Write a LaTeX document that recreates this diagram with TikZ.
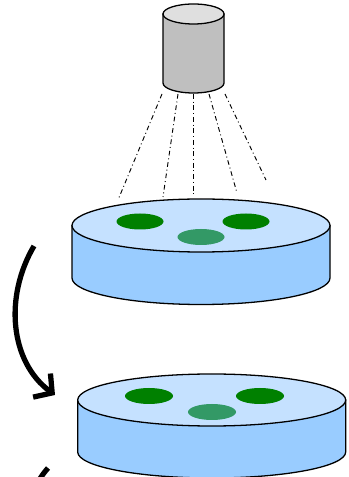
\documentclass[tikz,border=0pt]{standalone}
\usepackage{tikz}
\usetikzlibrary{arrows.meta}

\definecolor{dishside}{RGB}{153,204,255}
\definecolor{dishtop}{RGB}{197,225,255}
\definecolor{colony}{RGB}{0,128,0}
\definecolor{colonylight}{RGB}{51,153,102}

\begin{document}
\begin{tikzpicture}[x=0.03cm, y=0.03cm,
		outline/.style={draw=black, line width=1.1pt},
		ray/.style={line width=0.8pt, dash pattern=on 4pt off 2.5pt on 0.8pt off 2.5pt},
		move/.style={line width=4.5pt, -{Straight Barb[length=11pt, width=25pt, line width=4.5pt]}}]
		\useasboundingbox (0,0) rectangle (349,477);
		\clip (0,0) rectangle (349,477);
		% camera
		\draw[outline, fill=gray!50] (163,463) -- (163,394) arc (180:360:30.5 and 10) -- (224,463) -- cycle;
		\draw[outline, fill=gray!25] (193.5,463) ellipse (30.5 and 10);
		% light rays
		\coordinate (cam) at (193.5,383);
		\foreach \sx/\ex/\ey in {162/118/277, 178/163/280, 193.5/193.5/280, 209/237/284, 225/266/297}
			\draw[ray] (\sx,383) -- (\ex,\ey);
		% first dish
		\draw[outline, fill=dishside] (72,251.5) -- (72,199) arc (180:360:129 and 26.5) -- (330,251.5) -- cycle;
		\draw[outline, fill=dishtop] (201,251.5) ellipse (129 and 26.5);
		\fill[colony] (140,255.5) ellipse (23.5 and 8);
		\fill[colony] (246,255.5) ellipse (23.5 and 8);
		\fill[colonylight] (201,240) ellipse (23.5 and 8);
		% second dish
		\draw[outline, fill=dishside] (77.7,77) -- (77.7,25) arc (180:360:134 and 26) -- (345.7,77) -- cycle;
		\draw[outline, fill=dishtop] (211.7,77) ellipse (134 and 26);
		\fill[colony] (149,81) ellipse (24 and 8);
		\fill[colony] (260,81) ellipse (24 and 8);
		\fill[colonylight] (212,65) ellipse (24 and 8);
		% transfer arrows
		\coordinate (a1) at (34,231);
		\coordinate (a2) at (55,82);
		\draw[move] (a1) .. controls (4,180) and (10,115) .. (a2);
		\draw[line width=4.5pt] (48,9) .. controls (40,0) and (35,-10) .. (30,-20);
	\end{tikzpicture}
\end{document}
